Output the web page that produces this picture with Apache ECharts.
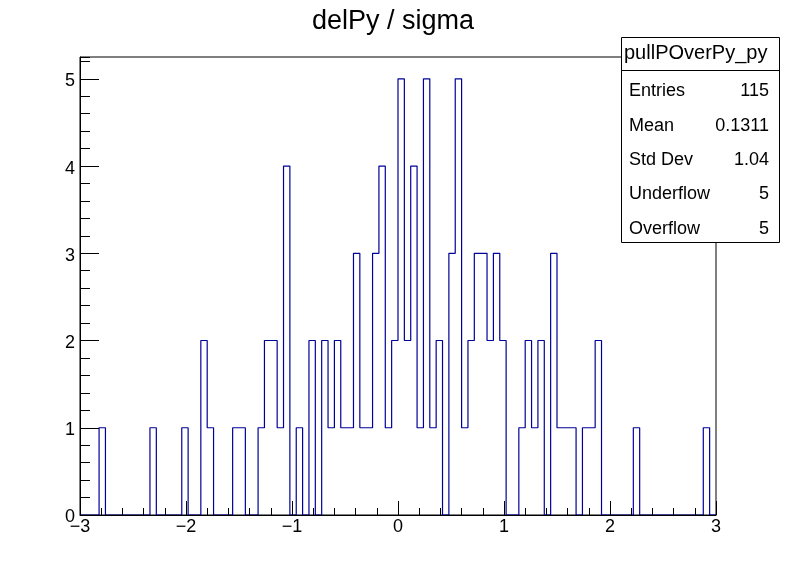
<!DOCTYPE html>
<html>
<head>
<meta charset="utf-8">
<script src="https://cdn.jsdelivr.net/npm/echarts@6/dist/echarts.min.js"></script>
<style>
  html, body { margin: 0; padding: 0; background: #fff; }
  #main { width: 796px; height: 572px; }
</style>
</head>
<body>
<div id="main"></div>
<script>
// histogram pullPOverPy_py : 100 bins on [-3, 3]
const xLow = -3;
const xHigh = 3;
const counts = [
  0, 0, 0, 1, 0, 0, 0, 0, 0, 0,
  0, 1, 0, 0, 0, 0, 1, 0, 0, 2,
  1, 0, 0, 0, 1, 1, 0, 0, 1, 2,
  2, 1, 4, 0, 1, 0, 2, 0, 2, 1,
  2, 1, 1, 3, 1, 1, 3, 4, 1, 2,
  5, 2, 4, 1, 5, 1, 2, 0, 3, 5,
  1, 2, 3, 3, 2, 3, 2, 0, 0, 1,
  2, 1, 2, 0, 3, 1, 1, 1, 0, 1,
  1, 2, 0, 0, 0, 0, 0, 1, 0, 0,
  0, 0, 0, 0, 0, 0, 0, 0, 1, 0
];
const histTitle = 'delPy / sigma';
const statsName = 'pullPOverPy_py';
const statsLabels = ['Entries', 'Mean', 'Std Dev', 'Underflow', 'Overflow'];
const statsValues = ['115', '0.1311', '1.04', '5', '5'];

const binWidth = (xHigh - xLow) / counts.length;
const stepData = counts.map((c, i) => [xLow + i * binWidth, c]);
stepData.push([xHigh, counts[counts.length - 1]]);

const font = 'Liberation Sans, Arial, Helvetica, sans-serif';
const yMax = 5.25;

const chart = echarts.init(document.getElementById('main'), null, { renderer: 'canvas' });

// stats box
const box = { x: 621.5, y: 37.5, w: 158, h: 205 };
const statsGraphics = [
  {
    type: 'rect', z: 100,
    shape: { x: box.x, y: box.y, width: box.w, height: box.h },
    style: { fill: '#fff', stroke: '#000', lineWidth: 1 }
  },
  {
    type: 'line', z: 101,
    shape: { x1: box.x, y1: 70.5, x2: box.x + box.w, y2: 70.5 },
    style: { stroke: '#000', lineWidth: 1 }
  },
  {
    type: 'text', z: 101, x: 624, y: 53,
    style: { text: statsName, font: '20px ' + font, fill: '#000', textAlign: 'left', textVerticalAlign: 'middle' }
  }
];
statsLabels.forEach((lab, i) => {
  const y = 91.5 + i * 34.3;
  statsGraphics.push({
    type: 'text', z: 101, x: 629, y: y,
    style: { text: lab, font: '18px ' + font, fill: '#000', textAlign: 'left', textVerticalAlign: 'middle' }
  });
  statsGraphics.push({
    type: 'text', z: 101, x: 769, y: y,
    style: { text: statsValues[i], font: '18px ' + font, fill: '#000', textAlign: 'right', textVerticalAlign: 'middle' }
  });
});

chart.setOption({
  animation: false,
  backgroundColor: '#fff',
  grid: {
    left: 80, right: 80, top: 57, bottom: 57,
    show: true, borderColor: '#000', borderWidth: 1,
    backgroundColor: 'transparent',
    outerBoundsMode: 'none'
  },
  graphic: [
    {
      type: 'text', z: 100, x: 393, y: 21.5,
      style: { text: histTitle, font: '27px ' + font, fill: '#000', textAlign: 'center', textVerticalAlign: 'middle' }
    }
  ].concat(statsGraphics),
  xAxis: {
    type: 'value', min: xLow, max: xHigh, interval: 1, z: 5,
    axisLine: { show: true, onZero: false, lineStyle: { color: '#000', width: 1 } },
    axisTick: { show: true, inside: true, length: 14, lineStyle: { color: '#000' } },
    minorTick: { show: true, splitNumber: 5, length: 7, lineStyle: { color: '#000' } },
    splitLine: { show: false },
    axisLabel: {
      margin: 3, color: '#000', fontSize: 18, fontFamily: font,
      formatter: v => String(v).replace('-', '\u2212')
    }
  },
  yAxis: [
    {
      type: 'value', min: 0, max: yMax, interval: 1, z: 5,
      axisLine: { show: true, onZero: false, lineStyle: { color: '#000', width: 1 } },
      axisTick: { show: true, inside: true, length: 19, lineStyle: { color: '#000' } },
      splitLine: { show: false },
      axisLabel: {
        margin: 5, showMaxLabel: false,
        formatter: v => '{n|' + v + '}',
        rich: { n: { color: '#000', fontSize: 18, fontFamily: font, padding: [5, 0, 0, 0] } }
      }
    },
    {
      type: 'value', min: 0, max: yMax, interval: 0.2, position: 'left', z: 5,
      axisLine: { show: false, onZero: false },
      axisTick: { show: true, inside: true, length: 10, lineStyle: { color: '#000' } },
      splitLine: { show: false },
      axisLabel: { show: false }
    }
  ],
  series: [
    {
      type: 'line', step: 'end', z: 2,
      data: stepData,
      showSymbol: false, symbol: 'none',
      lineStyle: { color: '#000099', width: 1.2 },
      silent: true
    }
  ]
});
</script>
</body>
</html>
